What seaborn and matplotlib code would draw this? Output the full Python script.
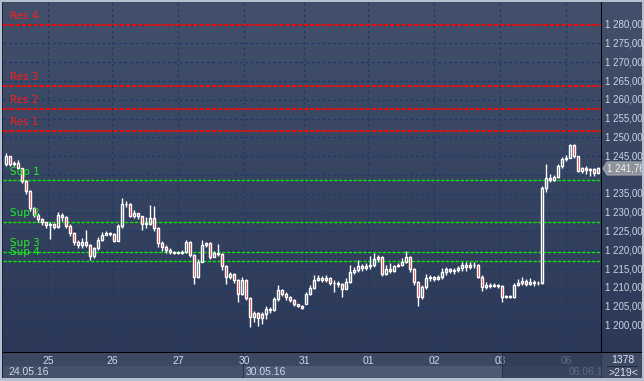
import matplotlib
matplotlib.use('Agg')
import numpy as np
import pandas as pd
import matplotlib.pyplot as plt
import seaborn as sns
from matplotlib.patches import Rectangle, Polygon
from matplotlib.transforms import blended_transform_factory

# candle data (close / high / low for each bar)
closes = [1245.0, 1243.0, 1243.2, 1241.8, 1238.5, 1235.7, 1231.2, 1229.3, 1228.2, 1227.4,
          1226.7, 1227.0, 1226.2, 1229.5, 1228.8, 1226.5, 1224.5, 1222.2, 1221.3, 1222.3,
          1221.5, 1218.6, 1220.5, 1222.8, 1224.2, 1224.5, 1224.3, 1222.6, 1226.5, 1232.2,
          1232.4, 1229.2, 1229.8, 1229.0, 1227.1, 1227.0, 1228.6, 1225.9, 1222.0, 1220.8,
          1220.2, 1219.6, 1219.4, 1219.4, 1219.5, 1222.3, 1218.8, 1213.0, 1217.0, 1221.5,
          1221.9, 1218.3, 1219.2, 1219.0, 1215.8, 1213.0, 1213.6, 1212.0, 1208.5, 1212.0,
          1207.3, 1202.3, 1203.2, 1202.0, 1203.0, 1204.5, 1204.0, 1207.0, 1209.4, 1208.5,
          1207.5, 1206.8, 1205.8, 1205.2, 1204.6, 1208.5, 1210.0, 1212.0, 1212.5, 1212.2,
          1212.6, 1211.2, 1211.3, 1211.0, 1209.8, 1211.6, 1214.3, 1214.8, 1215.8, 1215.2,
          1215.8, 1216.0, 1217.8, 1218.2, 1213.8, 1215.0, 1214.5, 1215.8, 1216.2, 1217.0,
          1218.3, 1215.0, 1211.5, 1207.6, 1210.2, 1212.5, 1213.0, 1212.4, 1212.8, 1214.2,
          1214.9, 1214.5, 1214.8, 1215.2, 1216.0, 1215.5, 1216.2, 1216.0, 1213.0, 1210.3,
          1210.9, 1210.5, 1210.8, 1210.4, 1207.6, 1207.7, 1207.6, 1210.8, 1211.2, 1211.8,
          1211.0, 1211.6, 1211.4, 1211.2, 1236.6, 1239.3, 1238.8, 1239.5, 1242.3, 1244.2,
          1244.6, 1248.0, 1245.0, 1241.2, 1241.8, 1241.4, 1241.6, 1240.5, 1241.76]
highs = [1246.0, 1244.0, 1243.8, 1243.9, 1242.0, 1238.8, 1236.0, 1231.5, 1229.8, 1228.5,
         1227.6, 1227.5, 1227.3, 1230.2, 1229.8, 1229.0, 1227.0, 1224.8, 1222.8, 1223.2,
         1225.3, 1221.8, 1221.0, 1223.5, 1224.8, 1225.0, 1224.8, 1224.5, 1227.0, 1234.0,
         1233.2, 1232.5, 1230.6, 1230.0, 1229.2, 1228.8, 1232.0, 1231.7, 1226.3, 1222.5,
         1221.5, 1220.5, 1219.8, 1219.7, 1220.0, 1222.8, 1222.5, 1219.0, 1217.8, 1222.8,
         1222.3, 1222.3, 1219.8, 1221.8, 1219.2, 1216.0, 1214.2, 1214.0, 1212.4, 1213.0,
         1212.3, 1207.5, 1203.8, 1203.6, 1203.5, 1205.3, 1205.0, 1207.5, 1210.8, 1209.8,
         1208.8, 1207.8, 1207.0, 1205.8, 1205.4, 1209.0, 1210.8, 1213.4, 1213.4, 1213.2,
         1213.3, 1212.8, 1212.0, 1211.8, 1211.4, 1212.5, 1216.0, 1215.6, 1217.4, 1216.3,
         1216.5, 1218.6, 1219.4, 1218.8, 1218.6, 1216.0, 1216.5, 1216.2, 1216.6, 1218.0,
         1219.8, 1218.6, 1215.3, 1211.8, 1210.8, 1213.8, 1213.5, 1213.2, 1213.4, 1215.2,
         1215.5, 1215.2, 1215.4, 1215.8, 1216.8, 1217.0, 1216.8, 1217.0, 1216.3, 1213.3,
         1211.5, 1211.3, 1211.2, 1211.0, 1210.8, 1208.0, 1208.0, 1211.2, 1212.3, 1213.0,
         1212.3, 1212.7, 1212.0, 1211.8, 1237.0, 1242.9, 1240.2, 1240.0, 1243.0, 1244.8,
         1245.3, 1248.3, 1248.3, 1245.2, 1242.2, 1242.3, 1242.0, 1241.8, 1242.2]
lows = [1242.5, 1242.5, 1242.3, 1241.5, 1238.0, 1235.0, 1230.5, 1228.8, 1227.5, 1226.8,
        1226.0, 1223.0, 1225.6, 1226.0, 1227.9, 1225.9, 1223.8, 1221.5, 1220.6, 1220.5,
        1220.8, 1217.5, 1218.0, 1220.0, 1222.5, 1224.0, 1223.8, 1222.2, 1222.4, 1226.0,
        1231.6, 1228.8, 1228.6, 1228.2, 1225.3, 1225.8, 1226.8, 1225.0, 1220.8, 1219.8,
        1219.3, 1219.1, 1219.1, 1219.1, 1219.1, 1219.3, 1218.2, 1211.0, 1212.5, 1216.8,
        1220.8, 1217.8, 1218.2, 1218.5, 1214.8, 1211.0, 1212.3, 1211.2, 1206.3, 1208.0,
        1206.8, 1199.6, 1200.8, 1199.8, 1200.5, 1201.8, 1203.2, 1203.8, 1206.5, 1207.8,
        1206.8, 1206.2, 1205.3, 1204.8, 1204.3, 1205.8, 1208.2, 1209.8, 1211.8, 1211.5,
        1211.6, 1210.8, 1209.0, 1210.2, 1207.6, 1209.6, 1211.4, 1213.8, 1214.3, 1214.6,
        1214.8, 1215.0, 1215.6, 1217.0, 1213.2, 1213.5, 1214.0, 1214.3, 1215.5, 1215.8,
        1216.6, 1214.2, 1210.8, 1205.3, 1207.0, 1209.8, 1211.8, 1211.8, 1212.0, 1212.4,
        1213.4, 1213.9, 1213.6, 1214.2, 1214.5, 1214.6, 1215.0, 1215.2, 1212.5, 1209.3,
        1209.6, 1209.9, 1210.2, 1210.0, 1206.3, 1207.2, 1207.3, 1207.4, 1210.5, 1210.8,
        1210.5, 1210.8, 1210.6, 1210.8, 1211.0, 1235.5, 1238.2, 1238.5, 1239.2, 1242.0,
        1243.8, 1244.5, 1244.6, 1240.8, 1240.6, 1240.2, 1239.8, 1239.8, 1240.3]
first_open = 1243.0
gap_bar = 75          # first bar after the gap on the 31st
gap_open = 1205.8

day_ticks = [10.5, 26.5, 43, 59.5, 74.5, 90.5, 107, 123.5, 140]
day_labels = ['25', '26', '27', '30', '31', '01', '02', '03', '06']

res_levels = [1251.8, 1257.6, 1263.8, 1280.0]
res_names = ['Res 1', 'Res 2', 'Res 3', 'Res 4']
sup_levels = [1238.6, 1227.6, 1219.65, 1217.2]
sup_names = ['Sup 1', 'Sup 2', 'Sup 3', 'Sup 4']
price_ticks = list(range(1200, 1285, 5))
last_price = 1241.76

df = pd.DataFrame({'close': closes, 'high': highs, 'low': lows})
df['open'] = df['close'].shift(1)
df.loc[0, 'open'] = first_open
df.loc[gap_bar, 'open'] = gap_open
df['i'] = np.arange(len(df))


def fmt(p):
    return f'{p:,.2f}'.replace(',', ' ').replace('.', ',')


sns.set_style('dark')
plt.rcParams['font.family'] = ['Liberation Sans', 'DejaVu Sans']

W, H = 644, 381
fig = plt.figure(figsize=(W / 100, H / 100), dpi=100)
fig.patch.set_facecolor('#3e4a64')


def box(x, y, w, h):
    # figure rect from pixel coords (y counted from top)
    return [x / W, 1 - (y + h) / H, w / W, h / H]


def frect(x, y, w, h, color, z=0):
    fig.patches.append(Rectangle((x / W, 1 - (y + h) / H), w / W, h / H,
                                 transform=fig.transFigure, facecolor=color,
                                 edgecolor='none', zorder=z))


ylo, yhi = 1192.95, 1285.77
xlo, xhi = -0.75, len(df) - 0.25
grad = np.linspace(0, 1, 256).reshape(-1, 1)
bg_cmap = matplotlib.colors.LinearSegmentedColormap.from_list('bg', ['#2b3857', '#42506b'])

ax = fig.add_axes(box(3, 3, 598, 349))
ax.imshow(grad, cmap=bg_cmap, aspect='auto', extent=[0, 1, 0, 1],
          transform=ax.transAxes, origin='lower', zorder=0)
ax.set_xlim(xlo, xhi)
ax.set_ylim(ylo, yhi)
ax.set_yticks(price_ticks)
ax.set_xticks(day_ticks)
ax.tick_params(length=0, labelleft=False, labelbottom=False)
ax.grid(True, color='#1b3a6c', linestyle=(0, (2.2, 2.2)), linewidth=0.9, zorder=1)
for s in ax.spines.values():
    s.set_visible(False)

# support / resistance levels
for lvl, name in zip(res_levels, res_names):
    ax.axhline(lvl, color='#ff0808', linestyle=(0, (2.5, 0.9)), linewidth=1.3, zorder=2)
    ax.annotate(name, (1, lvl), xytext=(0, 2.5), textcoords='offset points',
                color='#ff1c1c', fontsize=7.5, family='DejaVu Sans', va='bottom', zorder=5)
for lvl, name in zip(sup_levels, sup_names):
    ax.axhline(lvl, color='#10e010', linestyle=(0, (2.5, 1.0)), linewidth=1.0, zorder=2)
    ax.annotate(name, (1, lvl), xytext=(0, 2.5), textcoords='offset points',
                color='#20f020', fontsize=7.5, family='DejaVu Sans', va='bottom', zorder=5)

# candles
bw = 0.6
for r in df.itertuples():
    top, bot = max(r.open, r.close), min(r.open, r.close)
    ax.vlines(r.i, top, r.high, color='white', linewidth=1.0, zorder=3)
    ax.vlines(r.i, r.low, bot, color='white', linewidth=1.0, zorder=3)
    up = r.close >= r.open
    ax.add_patch(Rectangle((r.i - bw / 2, bot), bw, max(top - bot, 0.15),
                           facecolor='none' if up else '#ff0000',
                           edgecolor='white', linewidth=1.0, zorder=4))

# price axis panel
axr = fig.add_axes(box(602, 3, 42, 349))
axr.imshow(grad, cmap=bg_cmap, aspect='auto', extent=[0, 1, 0, 1],
           transform=axr.transAxes, origin='lower', zorder=0)
axr.set_ylim(ylo, yhi)
axr.set_xlim(0, 1)
axr.set_xticks([])
axr.set_yticks([])
for s in axr.spines.values():
    s.set_visible(False)
for p in price_ticks:
    if p == 1240:
        continue  # hidden under the last-price marker
    axr.text(0.07, p, fmt(p), color='#ccd5e5', fontsize=7, va='center', ha='left', zorder=2)
tr = blended_transform_factory(axr.transAxes, axr.transData)
hh = 1.75
axr.add_patch(Polygon([(0.02, last_price), (0.12, last_price + hh), (1.0, last_price + hh),
                       (1.0, last_price - hh), (0.12, last_price - hh)], closed=True,
                      transform=tr, facecolor='#8d929b', edgecolor='#b0b4bb',
                      linewidth=0.6, zorder=3))
axr.text(0.13, last_price, fmt(last_price), color='#f2f2f2', fontsize=7,
         va='center', ha='left', zorder=4)

# time axis panel
axb = fig.add_axes(box(3, 353, 598, 25))
axb.set_facecolor('#3c4862')
axb.set_xlim(xlo, xhi)
axb.set_ylim(0, 25)
axb.set_xticks([])
axb.set_yticks([])
for s in axb.spines.values():
    s.set_visible(False)
axb.add_patch(Rectangle((xlo, 0), xhi - xlo, 12, facecolor='#44516b', edgecolor='none', zorder=0))
axb.add_patch(Rectangle((59.3, 0), 123.9 - 59.3, 12, facecolor='#4d5a74', edgecolor='none', zorder=0))
axb.axvline(59.3, color='#283550', linewidth=0.9, zorder=1)
for t, lab in zip(day_ticks, day_labels):
    axb.text(t, 17.5, lab, color='#d0d8e8' if t < 130 else '#8e98ab', fontsize=7.5,
             ha='center', va='center', zorder=2)
axb.text(0.5, 6, '24.05.16', color='#d0d8e8', fontsize=7.5, ha='left', va='center', zorder=2)
axb.text(60.0, 6, '30.05.16', color='#d0d8e8', fontsize=7.5, ha='left', va='center', zorder=2)
axb.text(140.7, 6, '06.06.16', color='#8e98ab', fontsize=7.5, ha='left', va='center',
         zorder=2, clip_on=True)
axb.add_patch(Rectangle((123.9, 0), xhi - 123.9, 25, facecolor='#26324c', alpha=0.45,
                        edgecolor='none', zorder=3))
axb.axvline(123.9, color='#2a3650', linewidth=0.9, zorder=3)

# corner box
frect(602, 353, 42, 25, '#3e4a63', z=1)
fig.text(623 / W, 1 - 360 / H, '1378', color='#e0e6f0', fontsize=7.5, ha='center', va='center')
fig.text(623 / W, 1 - 373 / H, '>219<', color='#e0e6f0', fontsize=7.5, ha='center', va='center')
frect(607, 366, 31, 1, '#222c40', z=2)

# frame lines
frect(0, 352, W, 1, '#000000', z=5)
frect(601, 0, 1, 352, '#000000', z=5)
frect(601, 353, 1, 25, '#2a3550', z=5)
frect(0, 0, W, 2, '#b4bfcf', z=6)
frect(0, 378, W, 3, '#b4bfcf', z=6)
frect(0, 0, 2, H, '#b4bfcf', z=6)
frect(2, 2, 1, 376, '#1c2438', z=6)
frect(W - 2, 0, 2, H, '#b4bfcf', z=6)

fig.savefig('out.png', dpi=100, facecolor=fig.get_facecolor())
